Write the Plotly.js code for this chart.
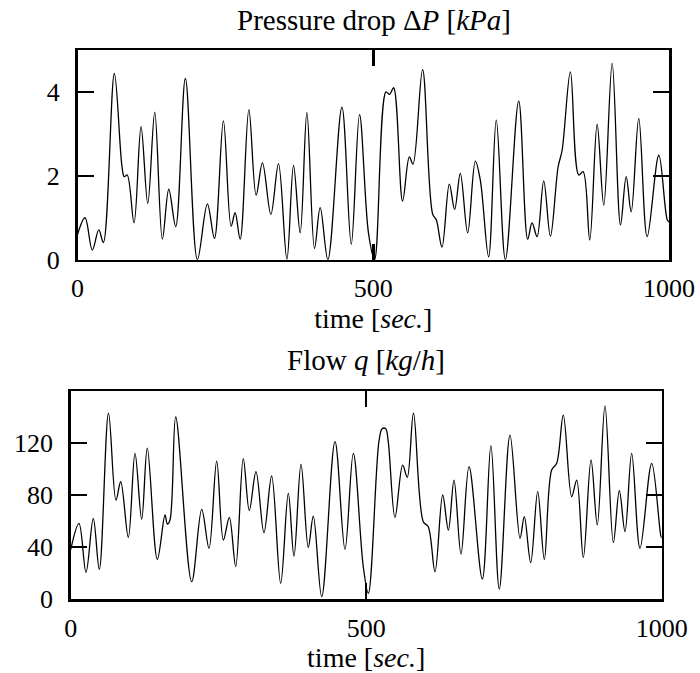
<!DOCTYPE html>
<html>
<head>
<meta charset="utf-8">
<script src="https://cdn.plot.ly/plotly-3.0.1.min.js"></script>
<style>html,body{margin:0;padding:0;background:#fff;}</style>
</head>
<body>
<div id="chart" style="width:700px;height:673px;"></div>
<script>
// Pressure drop series (time in s, value in kPa)
const tP = [0,12.7,25,36,43.7,62.3,75,79,84,95.6,107.4,118.8,130.6,143.5,154.3,166,182.4,202.7,219.6,231.5,246.7,259.7,266.5,275,289.7,302,312.7,326.9,339.8,354,365.2,376.5,387.8,400.7,410.3,423.3,447,462.8,476.8,492,502.2,521.5,527.6,534.4,549.6,561,567.2,583.4,600.4,606.6,616.2,628.6,637.6,647.2,659.6,672.6,681,695,708,723.4,745.9,761.1,768.5,777,788.2,799.5,812.5,819.3,833.3,847.4,854.8,866,878.5,889.7,903.9,918,927.6,936.1,948.9,963.1,982.8,997,1000];
const dP = [0.6,1.0,0.23,0.71,0.41,4.44,2.25,1.98,2.02,0.88,3.17,1.34,3.52,0.49,1.68,0.79,4.32,0.0,1.33,0.51,3.31,0.80,1.12,0.49,3.58,1.54,2.31,1.08,2.29,0.01,2.25,0.64,3.51,0.27,1.24,0.0,3.64,0.37,3.46,0.63,0.0,4.0,3.94,4.10,1.40,2.45,2.28,4.53,1.09,0.95,0.30,1.80,1.20,2.06,0.64,2.35,1.9,0.07,3.33,0.0,3.78,0.49,0.88,0.55,1.88,0.56,2.21,2.61,4.48,2.02,2.10,0.47,3.23,1.30,4.68,0.83,1.98,1.14,3.37,0.55,2.49,0.95,0.9];

// Flow series (time in s, value in kg/h)
const tQ = [0,14,25.9,38.2,48.4,64,76.6,84.6,97.5,108.8,120.1,129.6,146.6,159.6,163.5,168,177.7,204.7,221.7,234,247,258.3,268.4,279.2,292,302.2,313.5,327,340,355.3,368.2,377.8,389.7,402,410.5,424.7,447.2,464.1,478.2,495,503.6,521.5,527,533,537.3,548.7,561.7,569.5,580,596.6,605,616.4,629.4,639,648.6,660.4,674,696.5,711,725.2,743.3,760.3,767.5,778.3,790.2,801.4,813.8,822.3,833.5,847.7,856.2,867.4,880.4,891,904,918.2,928.3,937.9,949.2,963.3,983.1,998.3,1000];
const q = [38,58.2,20.5,62,22.8,143,76,90.2,47.4,112,61.3,116,30.5,64.6,57.7,60.8,140,13.3,69,39,106,45.4,62.8,24.9,108,68,98,51,94.6,12,81.3,33,103.8,39.7,63.8,1.8,121,38.2,112,25,4.4,121,131,131,121,62.8,103,93.6,143,59.5,55.6,21,80,53,91.5,34.6,101.8,15.4,118,7.7,126,46.7,63.3,28,82.6,30.5,99.2,104.4,141.5,78.7,91.5,31.8,107,57,148.5,43.3,83.3,51.8,112,39,104.4,49.2,47];

const xTicks = [0,500,1000];
const yTicksP = [0,2,4];
const yTicksQ = [0,40,80,120];

const W = 700, H = 673;
const FONT = '"Liberation Serif", "Times New Roman", serif';
const fx = p => p / W;
const fy = p => 1 - p / H;

const axisCommon = {
  showline: true, linecolor: '#000', linewidth: 2.5, mirror: 'ticks',
  ticks: 'inside', ticklen: 16, tickwidth: 2.5, tickcolor: '#000',
  showgrid: false, zeroline: false, tickmode: 'array',
  tickfont: {family: FONT, size: 26, color: '#000'}
};

const traces = [
  {x: tP, y: dP, type: 'scatter', mode: 'lines', xaxis: 'x', yaxis: 'y',
   line: {color: '#000', width: 1.3, shape: 'spline', smoothing: 1}, hoverinfo: 'skip'},
  {x: tQ, y: q, type: 'scatter', mode: 'lines', xaxis: 'x2', yaxis: 'y2',
   line: {color: '#000', width: 1.3, shape: 'spline', smoothing: 1}, hoverinfo: 'skip'}
];

const layout = {
  width: W, height: H, showlegend: false,
  margin: {l: 0, r: 0, t: 0, b: 0},
  paper_bgcolor: '#fff', plot_bgcolor: '#fff',
  font: {family: FONT, color: '#000', size: 26},
  xaxis: Object.assign({}, axisCommon, {
    domain: [fx(77.5), fx(669)], range: [0, 1000], anchor: 'y',
    tickvals: xTicks, ticktext: xTicks.map(String), ticklabelstandoff: 4,
    title: {text: 'time [<i>sec.</i>]', font: {family: FONT, size: 28, color: '#000'}, standoff: 0}
  }),
  yaxis: Object.assign({}, axisCommon, {
    domain: [fy(259.7), fy(50)], range: [0, 5], anchor: 'x',
    tickvals: yTicksP, ticktext: yTicksP.map(String), ticklabelstandoff: 10
  }),
  xaxis2: Object.assign({}, axisCommon, {
    domain: [fx(70.7), fx(661.7)], range: [0, 1000], anchor: 'y2',
    tickvals: xTicks, ticktext: xTicks.map(String), ticklabelstandoff: 4,
    title: {text: 'time [<i>sec.</i>]', font: {family: FONT, size: 28, color: '#000'}, standoff: 0}
  }),
  yaxis2: Object.assign({}, axisCommon, {
    domain: [fy(599), fy(391)], range: [0, 160], anchor: 'x2',
    tickvals: yTicksQ, ticktext: yTicksQ.map(String), ticklabelstandoff: 10
  }),
  annotations: [
    {text: 'Pressure drop Δ<i>P</i> [<i>kPa</i>]', xref: 'paper', yref: 'paper',
     x: fx(374), y: fy(20), xanchor: 'center', yanchor: 'middle', showarrow: false,
     font: {family: FONT, size: 29, color: '#000'}},
    {text: 'Flow <i>q</i> [<i>kg</i>/<i>h</i>]', xref: 'paper', yref: 'paper',
     x: fx(366), y: fy(360), xanchor: 'center', yanchor: 'middle', showarrow: false,
     font: {family: FONT, size: 29, color: '#000'}}
  ]
};

Plotly.newPlot('chart', traces, layout, {staticPlot: true, displayModeBar: false});
</script>
</body>
</html>
